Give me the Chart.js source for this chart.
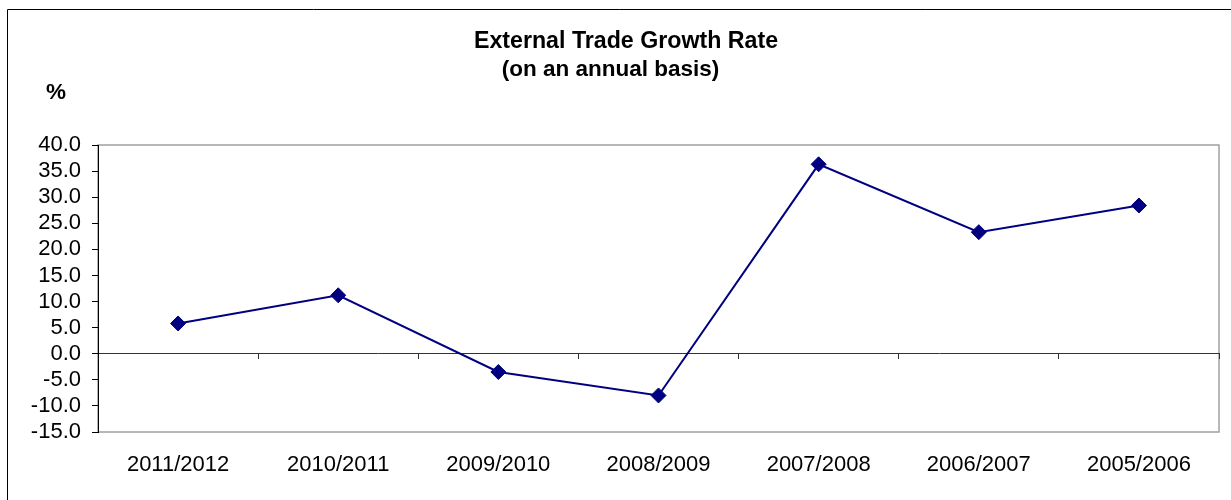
<!DOCTYPE html>
<html>
<head>
<meta charset="utf-8">
<title>External Trade Growth Rate</title>
<script src="https://cdn.jsdelivr.net/npm/chart.js@4.4.1/dist/chart.umd.min.js"></script>
<style>
  html, body { margin: 0; padding: 0; background: #fff; }
  #wrap { position: relative; width: 1231px; height: 500px; }
</style>
</head>
<body>
<div id="wrap"><canvas id="chart"></canvas></div>
<script>
// Fiscal years, most recent first
const categories = ['2011/2012', '2010/2011', '2009/2010', '2008/2009', '2007/2008', '2006/2007', '2005/2006'];
// Annual growth rate of external trade, %
const growthRate = [5.8, 11.2, -3.5, -8.0, 36.3, 23.3, 28.4];
// Value axis ticks
const yTicks = [-15, -10, -5, 0, 5, 10, 15, 20, 25, 30, 35, 40];
const titleLines = ['External Trade Growth Rate', '(on an annual basis)'];
const unitLabel = '%';

const FONT = '"Liberation Sans", Arial, Helvetica, sans-serif';
const NAVY = '#000080';

// White background, outer box and the grey frame around the plot area
const framePlugin = {
  id: 'frame',
  beforeDraw(chart) {
    const { ctx, chartArea: a } = chart;
    ctx.save();
    ctx.fillStyle = '#fff';
    ctx.fillRect(0, 0, chart.width, chart.height);
    ctx.strokeStyle = '#000';
    ctx.lineWidth = 1;
    ctx.beginPath();
    ctx.moveTo(7.5, chart.height + 2);
    ctx.lineTo(7.5, 9.5);
    ctx.lineTo(chart.width + 2, 9.5);
    ctx.stroke();
    ctx.strokeStyle = '#a0a0a0';
    ctx.lineWidth = 1.5;
    ctx.strokeRect(a.left, a.top, a.right - a.left, a.bottom - a.top);
    ctx.restore();
  },
  afterDraw(chart) {
    const { ctx } = chart;
    ctx.save();
    ctx.fillStyle = '#000';
    ctx.textBaseline = 'alphabetic';
    ctx.textAlign = 'center';
    ctx.font = 'bold 23.2px ' + FONT;
    ctx.fillText(titleLines[0], 626, 48);
    ctx.font = 'bold 22.5px ' + FONT;
    ctx.fillText(titleLines[1], 610.5, 76);
    ctx.textAlign = 'left';
    ctx.fillText(unitLabel, 46, 99);
    ctx.restore();
  }
};

new Chart(document.getElementById('chart'), {
  type: 'line',
  data: {
    labels: categories,
    datasets: [{
      data: growthRate,
      xAxisID: 'x',
      yAxisID: 'y',
      borderColor: NAVY,
      borderWidth: 2,
      backgroundColor: NAVY,
      pointStyle: 'rectRot',
      pointRadius: 7.5,
      pointBackgroundColor: NAVY,
      pointBorderColor: NAVY,
      pointBorderWidth: 1,
      tension: 0,
      fill: false,
      clip: false
    }]
  },
  options: {
    responsive: true,
    maintainAspectRatio: false,
    animation: false,
    events: [],
    layout: { padding: { left: 0, top: 145, right: 12, bottom: 0 } },
    plugins: {
      legend: { display: false },
      title: { display: false },
      tooltip: { enabled: false }
    },
    scales: {
      x: {
        type: 'category',
        position: 'bottom',
        offset: true,
        grid: { display: false },
        border: { display: false },
        ticks: {
          color: '#000',
          font: { family: FONT, size: 22 },
          padding: 12,
          maxRotation: 0,
          autoSkip: false
        },
        afterFit(s) { s.height = 68; }
      },
      xZero: {
        type: 'category',
        labels: categories,
        position: { y: 0 },
        offset: true,
        grid: {
          offset: true,
          drawOnChartArea: false,
          drawTicks: true,
          tickLength: 5,
          color: '#333',
          lineWidth: 1
        },
        border: { display: true, color: '#333', width: 1 },
        ticks: { display: false }
      },
      y: {
        type: 'linear',
        position: 'left',
        min: -15,
        max: 40,
        afterBuildTicks(s) { s.ticks = yTicks.map(v => ({ value: v })); },
        grid: {
          drawOnChartArea: false,
          drawTicks: true,
          tickLength: 6,
          color: '#000',
          lineWidth: 1
        },
        border: { display: true, color: '#000', width: 1 },
        ticks: {
          color: '#000',
          font: { family: FONT, size: 22 },
          padding: 11,
          autoSkip: false,
          callback: v => Number(v).toFixed(1)
        },
        afterFit(s) { s.width = 98; }
      }
    }
  },
  plugins: [framePlugin]
});
</script>
</body>
</html>
